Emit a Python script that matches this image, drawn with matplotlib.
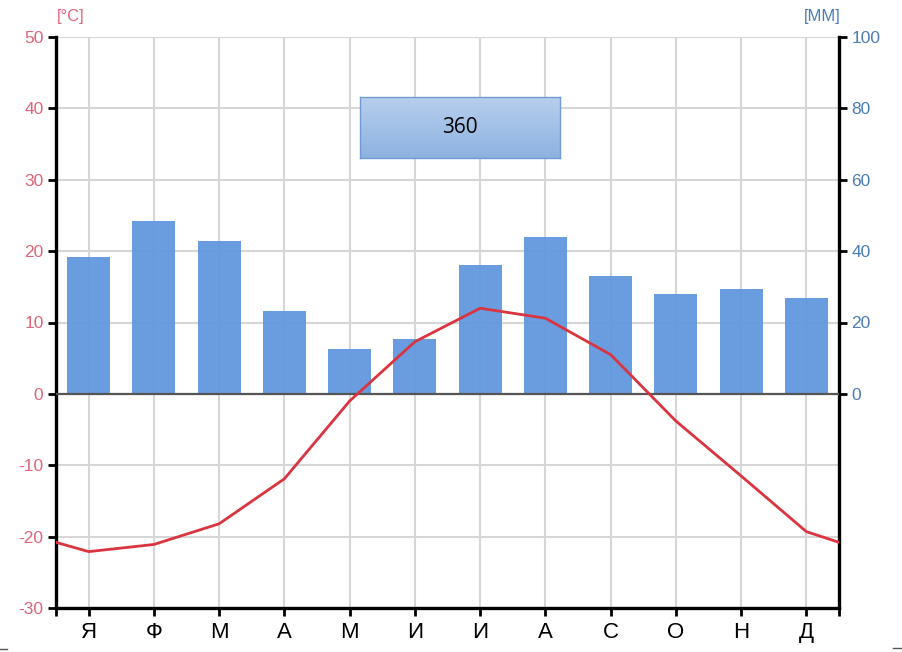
import numpy as np
import matplotlib
matplotlib.use("Agg")
import matplotlib.pyplot as plt
from matplotlib.lines import Line2D

# ---------------------------------------------------------------------------
# data
# ---------------------------------------------------------------------------
months = ["Я", "Ф", "М", "А", "М", "И", "И", "А", "С", "О", "Н", "Д"]
precip_mm = [38.3, 48.4, 42.9, 23.3, 12.5, 15.5, 36.1, 44.0, 33.0, 27.9, 29.5, 27.0]
temp_c = [-22.1, -21.1, -18.2, -11.9, -1.0, 7.3, 12.0, 10.6, 5.5, -3.8, -11.5, -19.3]
temp_edge = [-20.8, -20.8]          # value where the curve meets the left/right frame
total_label = "360"

RED_TXT = "#e0647a"
BLUE_TXT = "#4a7cb8"
BAR = "#6298de"
LINE = "#d9343f"
GRID = "#d6d6d6"

plt.rcParams["font.family"] = ["Liberation Sans", "DejaVu Sans"]
plt.rcParams["axes.unicode_minus"] = False

fig = plt.figure(figsize=(9.02, 6.52), dpi=100)
rect = [56 / 902, 44 / 652, (839 - 56) / 902, (608 - 37) / 652]
ax = fig.add_axes(rect)              # temperature scale, grid, left/bottom frame
ax2 = ax.twinx()                     # precipitation scale (bars)
ax3 = fig.add_axes(rect, sharex=ax, sharey=ax)   # temperature curve on top
ax3.axis("off")

x = np.arange(len(months))

ax.grid(True, color=GRID, lw=1.5, zorder=0)
ax.set_axisbelow(True)

ax2.bar(x, precip_mm, width=0.66, color=BAR, alpha=0.95, zorder=2)

xt = np.concatenate([[-0.5], x, [len(months) - 0.5]])
yt = np.concatenate([[temp_edge[0]], temp_c, [temp_edge[1]]])
ax3.axhline(0, color="#555555", lw=1.6, zorder=3)
ax3.plot(xt, yt, color=LINE, lw=2.0, zorder=4, solid_joinstyle="round")

ax.set_xlim(-0.5, len(months) - 0.5)
ax.set_ylim(-30, 50)
ax2.set_ylim(-60, 100)
ax.set_yticks(np.arange(-30, 51, 10))
ax2.set_yticks(np.arange(0, 101, 20))
ax.set_xticks(x)
ax.set_xticklabels(months, fontsize=16)
ax.set_xticks([-0.5, len(months) - 0.5], minor=True)

for s in ["top", "right"]:
    ax.spines[s].set_visible(False)
for s in ["top", "left", "bottom"]:
    ax2.spines[s].set_visible(False)
for sp in [ax.spines["left"], ax.spines["bottom"], ax2.spines["right"]]:
    sp.set_linewidth(2.4)
    sp.set_color("black")
    sp.set_zorder(5)

ax.tick_params(axis="y", colors="black", labelcolor=RED_TXT, labelsize=12.5,
               length=5.5, width=2, pad=3.5)
ax.tick_params(axis="x", which="both", colors="black", length=6, width=2, pad=4)
ax2.tick_params(axis="y", colors="black", labelcolor=BLUE_TXT, labelsize=12.5,
                length=5.5, width=2, pad=3.5)

fig.text(57 / 902, 1 - 16 / 652, "[°C]", color=RED_TXT, fontsize=12,
         ha="left", va="center")
fig.text(841 / 902, 1 - 16 / 652, "[MM]", color=BLUE_TXT, fontsize=12,
         ha="right", va="center")

# gradient label box, above everything else
bx = fig.add_axes([360 / 902, 1 - 158 / 652, 200 / 902, 61 / 652])
bx.set_zorder(10)
grad = np.linspace(0, 1, 64)[:, None]
top_c = np.array([0.72, 0.81, 0.93])
bot_c = np.array([0.55, 0.70, 0.88])
img = top_c[None, None, :] * (1 - grad[..., None]) + bot_c[None, None, :] * grad[..., None]
bx.imshow(img, aspect="auto", extent=[0, 1, 0, 1])
bx.set_xticks([]); bx.set_yticks([])
for sp in bx.spines.values():
    sp.set_color("#6f9ad2")
    sp.set_linewidth(1.0)
bx.text(0.5, 0.5, total_label, ha="center", va="center", fontsize=15,
        family="Open Sans", color="black", transform=bx.transAxes)

# small edge dashes at the bottom of the picture
fig.add_artist(Line2D([0, 7 / 902], [1 - 649 / 652] * 2, color="#555555", lw=1))
fig.add_artist(Line2D([893 / 902, 1], [1 - 648 / 652] * 2, color="#555555", lw=1))

fig.savefig("out.png", dpi=100, facecolor="white")
